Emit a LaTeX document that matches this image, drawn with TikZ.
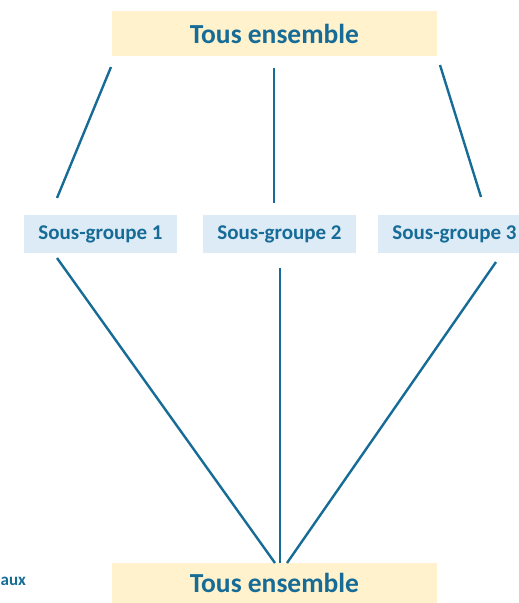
\documentclass[tikz,border=0pt]{standalone}
\usepackage{fontspec}
\setmainfont{Carlito}
\definecolor{ink}{RGB}{22,108,150}
\definecolor{yel}{RGB}{255,242,204}
\definecolor{blu}{RGB}{221,235,247}
\begin{document}
\begin{tikzpicture}[x=1pt,y=-1pt,
  bigbox/.style={fill=yel,inner sep=0pt,minimum width=325pt,minimum height=45pt,text=ink,font=\fontsize{27.5}{30}\selectfont\bfseries},
  subbox/.style={fill=blu,inner sep=0pt,minimum width=153pt,minimum height=38pt,text=ink,font=\fontsize{21}{24}\selectfont\bfseries},
  link/.style={draw=ink,line width=2.4pt}]
\useasboundingbox (0,0) rectangle (519,603);
\begin{scope}
\clip (0,0) rectangle (519,603);
\node[bigbox] (top) at (274.5,33.5) {Tous ensemble};
\node[subbox] (s1) at (100.5,234) {Sous-groupe 1};
\node[subbox] (s2) at (279.5,234) {Sous-groupe 2};
\node[subbox] (s3) at (454.5,234) {Sous-groupe 3};
\node[bigbox,minimum height=40pt] (bot) at (274.5,583) {Tous ensemble};
\node[anchor=west,inner sep=0pt,text=ink,font=\fontsize{17}{19}\selectfont\bfseries] (aux) at (0.5,581) {aux};
\coordinate (t1) at (111,67);
\coordinate (t2) at (274,68);
\coordinate (t3) at (440,65);
\coordinate (u1) at (57,198);
\coordinate (u2) at (274,203);
\coordinate (u3) at (481,197);
\coordinate (d1) at (57,258);
\coordinate (d2) at (280,268);
\coordinate (d3) at (496,262);
\coordinate (b1) at (275,563);
\coordinate (b2) at (280,563);
\coordinate (b3) at (287,563);
\draw[link] (t1) -- (u1);
\draw[link] (t2) -- (u2);
\draw[link] (t3) -- (u3);
\draw[link] (d1) -- (b1);
\draw[link] (d2) -- (b2);
\draw[link] (d3) -- (b3);
\end{scope}
\end{tikzpicture}
\end{document}
